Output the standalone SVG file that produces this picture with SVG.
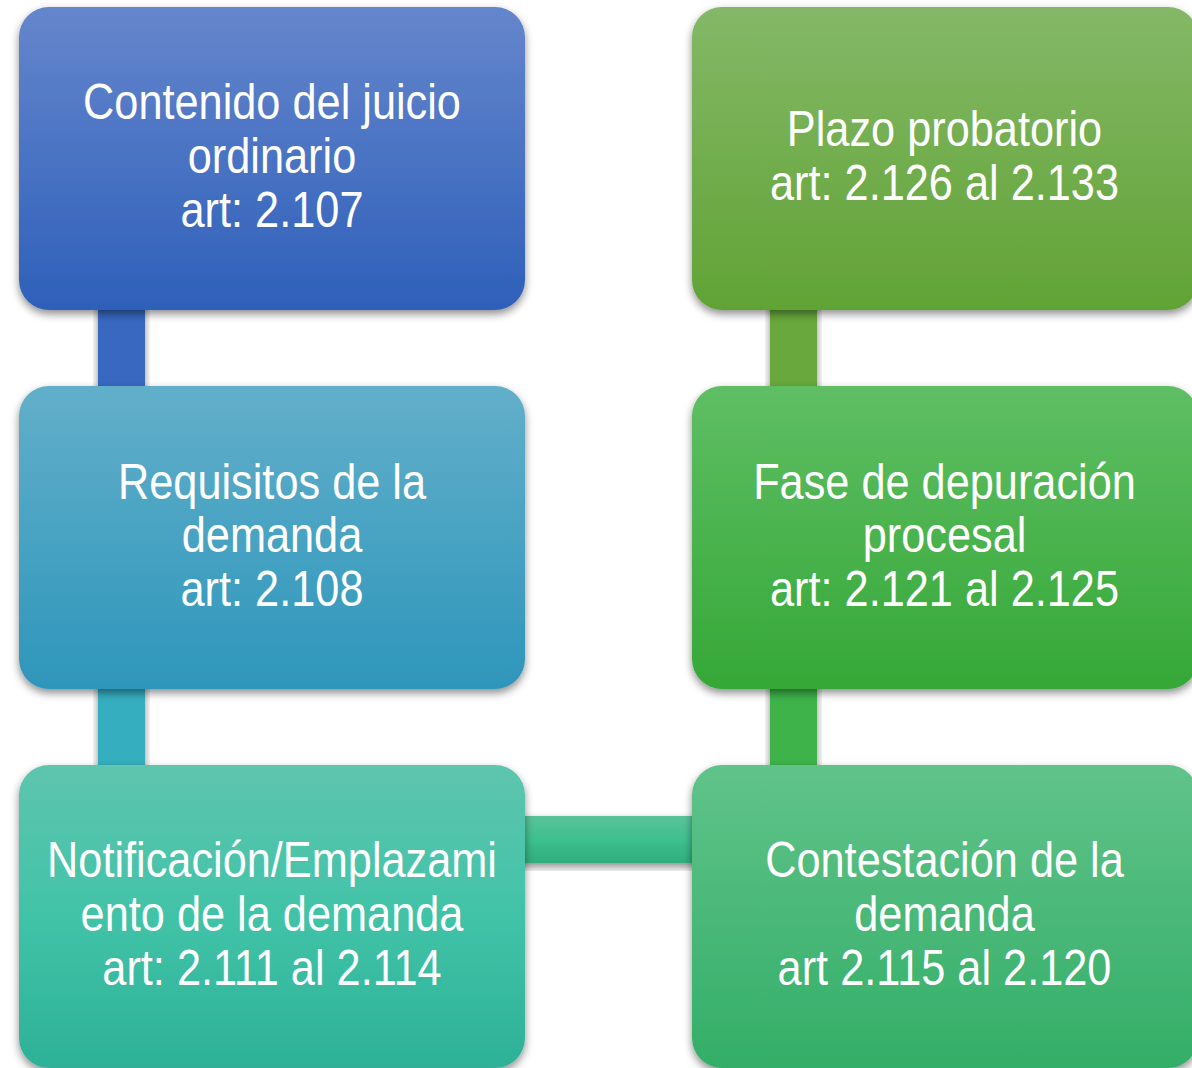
<svg xmlns="http://www.w3.org/2000/svg" width="1192" height="1068" viewBox="0 0 1192 1068">
  <style>
    .lbl { font-family: "Liberation Sans", Arial, sans-serif; font-size: 50px; fill: #ffffff; text-anchor: middle; }
    .box { filter: url(#sh); }
    .con { filter: url(#sh); }
  </style>
  <defs>
    <filter id="sh" x="-10%" y="-10%" width="120%" height="125%">
      <feDropShadow dx="0" dy="4" stdDeviation="4" flood-color="#000" flood-opacity="0.45"/>
    </filter>
    <linearGradient id="g1" x1="0" y1="0" x2="0" y2="1">
      <stop offset="0" stop-color="#6586CC"/>
      <stop offset="1" stop-color="#2E60BA"/>
    </linearGradient>
    <linearGradient id="g2" x1="0" y1="0" x2="0" y2="1">
      <stop offset="0" stop-color="#62AFCA"/>
      <stop offset="1" stop-color="#2E96BB"/>
    </linearGradient>
    <linearGradient id="g3" x1="0" y1="0" x2="0" y2="1">
      <stop offset="0" stop-color="#5EC5AE"/>
      <stop offset="0.5" stop-color="#41C3A8"/>
      <stop offset="1" stop-color="#2DB197"/>
    </linearGradient>
    <linearGradient id="g4" x1="0" y1="0" x2="0" y2="1">
      <stop offset="0" stop-color="#60C38A"/>
      <stop offset="1" stop-color="#33AE67"/>
    </linearGradient>
    <linearGradient id="g5" x1="0" y1="0" x2="0" y2="1">
      <stop offset="0" stop-color="#5FBE64"/>
      <stop offset="1" stop-color="#35A837"/>
    </linearGradient>
    <linearGradient id="g6" x1="0" y1="0" x2="0" y2="1">
      <stop offset="0" stop-color="#84B867"/>
      <stop offset="1" stop-color="#61A335"/>
    </linearGradient>
    <linearGradient id="gh" x1="0" y1="0" x2="0" y2="1">
      <stop offset="0" stop-color="#5BC39B"/>
      <stop offset="0.5" stop-color="#3DC08E"/>
      <stop offset="1" stop-color="#30AD7D"/>
    </linearGradient>
  </defs>
  <rect width="1192" height="1068" fill="#ffffff"/>

  <g id="connectors">
    <rect class="con" x="98" y="300" width="47" height="96" fill="#3868C0"/>
    <rect class="con" x="98" y="680" width="47" height="95" fill="#35AEBF"/>
    <rect class="con" x="515" y="816" width="187" height="47" fill="url(#gh)"/>
    <rect class="con" x="770" y="680" width="47" height="95" fill="#3CB34A"/>
    <rect class="con" x="770" y="300" width="47" height="96" fill="#67A83E"/>
  </g>

  <g id="n1">
    <rect class="box" x="19" y="7" width="506" height="303" rx="30" fill="url(#g1)"/>
    <text class="lbl" transform="translate(272,0) scale(0.866,1)"><tspan x="0" y="119.5">Contenido del juicio</tspan><tspan x="0" y="173">ordinario</tspan><tspan x="0" y="227">art: 2.107</tspan></text>
  </g>
  <g id="n2">
    <rect class="box" x="19" y="386" width="506" height="303" rx="30" fill="url(#g2)"/>
    <text class="lbl" transform="translate(272,0) scale(0.866,1)"><tspan x="0" y="499">Requisitos de la</tspan><tspan x="0" y="552.5">demanda</tspan><tspan x="0" y="606.5">art: 2.108</tspan></text>
  </g>
  <g id="n3">
    <rect class="box" x="19" y="765" width="506" height="303" rx="30" fill="url(#g3)"/>
    <text class="lbl" transform="translate(272,0) scale(0.866,1)"><tspan x="0" y="877.5">Notificación/Emplazami</tspan><tspan x="0" y="931">ento de la demanda</tspan><tspan x="0" y="985">art: 2.111 al 2.114</tspan></text>
  </g>
  <g id="n4">
    <rect class="box" x="692" y="765" width="506" height="303" rx="30" fill="url(#g4)"/>
    <text class="lbl" transform="translate(944.5,0) scale(0.866,1)"><tspan x="0" y="877.5">Contestación de la</tspan><tspan x="0" y="931">demanda</tspan><tspan x="0" y="985">art 2.115 al 2.120</tspan></text>
  </g>
  <g id="n5">
    <rect class="box" x="692" y="386" width="506" height="303" rx="30" fill="url(#g5)"/>
    <text class="lbl" transform="translate(944.5,0) scale(0.866,1)"><tspan x="0" y="499">Fase de depuración</tspan><tspan x="0" y="552.5">procesal</tspan><tspan x="0" y="606.5">art: 2.121 al 2.125</tspan></text>
  </g>
  <g id="n6">
    <rect class="box" x="692" y="7" width="506" height="303" rx="30" fill="url(#g6)"/>
    <text class="lbl" transform="translate(944.5,0) scale(0.866,1)"><tspan x="0" y="146.5">Plazo probatorio</tspan><tspan x="0" y="200.5">art: 2.126 al 2.133</tspan></text>
  </g>
</svg>
